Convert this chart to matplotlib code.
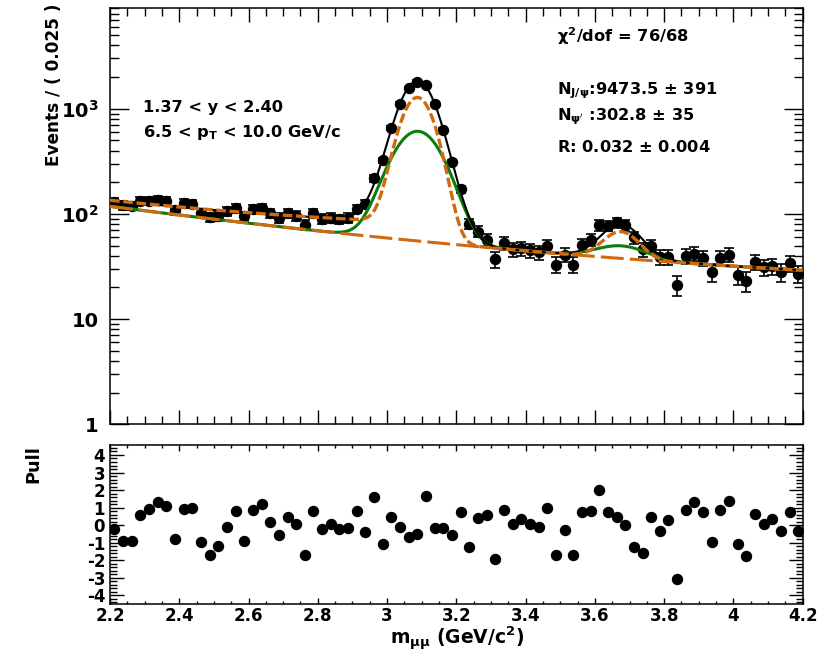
import math
import numpy as np
import matplotlib
matplotlib.use("Agg")
import matplotlib.pyplot as plt
from matplotlib.ticker import FixedLocator, FixedFormatter, MultipleLocator, NullFormatter

plt.rcParams['font.family'] = ['DejaVu Sans']
plt.rcParams['font.weight'] = 'bold'
plt.rcParams['mathtext.fontset'] = 'dejavusans'
plt.rcParams['mathtext.default'] = 'bf'

W, H = 832, 658

# dimuon mass bins (GeV/c^2), 0.025 wide
bin_centers = np.arange(80) * 0.025 + 2.2125

# events per bin
counts = [131, 121, 119, 133, 134, 137, 132, 109, 126, 124,
          102, 93, 96, 106, 113, 95, 111, 113, 101, 92,
          101, 96, 79, 101, 90, 92, 89, 92, 112, 124,
          217, 323, 656, 1114, 1585, 1813, 1684, 1109, 626, 308,
          171, 81, 68, 57, 37, 53, 46, 47, 45, 43,
          50, 33, 41, 33, 51, 57, 78, 77, 83, 78,
          60, 46, 50, 39, 39, 21, 40, 42, 38, 28,
          38, 41, 26, 23, 35, 31, 32, 28, 34, 27]

# pull of each bin with respect to the total fit
pulls = [-0.23, -0.9, -0.9, 0.59, 0.91, 1.29, 1.1, -0.8, 0.91, 0.97,
         -0.95, -1.7, -1.2, -0.1, 0.78, -0.9, 0.85, 1.2, 0.15, -0.57,
         0.47, 0.06, -1.7, 0.82, -0.23, 0.06, -0.23, -0.17, 0.82, -0.42,
         1.61, -1.1, 0.44, -0.1, -0.7, -0.5, 1.67, -0.17, -0.17, -0.55,
         0.72, -1.27, 0.38, 0.57, -1.94, 0.85, 0.06, 0.34, 0.09, -0.08,
         0.97, -1.69, -0.27, -1.69, 0.72, 0.8, 2.0, 0.72, 0.44, 0.0,
         -1.27, -1.61, 0.47, -0.32, 0.28, -3.07, 0.85, 1.29, 0.72, -0.99,
         0.85, 1.35, -1.08, -1.75, 0.66, 0.09, 0.34, -0.36, 0.72, -0.36]

# fit model parameters
bkg_log10 = [2.072, -0.425, 0.0605]          # log10 polynomial in (m - 2.2)
jpsi_mean, jpsi_sig_n, jpsi_sig_w = 3.088, 0.044, 0.065
jpsi_amp_n, jpsi_amp_w = 1210.0, 555.0
tail_amp, tail_slope = 28.0, 0.58
psi2s_mean, psi2s_sig_n, psi2s_sig_w = 3.675, 0.048, 0.07
psi2s_amp_n, psi2s_amp_w = 30.0, 12.0

erfc = np.vectorize(math.erfc)


def gauss(m, a, mu, s):
    return a * np.exp(-0.5 * ((m - mu) / s) ** 2)


def components(m):
    u = m - 2.2
    bkg = 10 ** (bkg_log10[0] + bkg_log10[1] * u + bkg_log10[2] * u ** 2)
    tail = (tail_amp * np.exp(tail_slope * (m - jpsi_mean)) * 0.5
            * erfc((m - jpsi_mean) / (jpsi_sig_n * math.sqrt(2))))
    narrow = (tail + gauss(m, jpsi_amp_n, jpsi_mean, jpsi_sig_n)
              + gauss(m, psi2s_amp_n, psi2s_mean, psi2s_sig_n))
    wide = (gauss(m, jpsi_amp_w, jpsi_mean, jpsi_sig_w)
            + gauss(m, psi2s_amp_w, psi2s_mean, psi2s_sig_w))
    return bkg, narrow, wide


errors = np.sqrt(np.array(counts, dtype=float))
m_fine = np.linspace(2.2, 4.2, 1201)
bf, nf, wf = components(m_fine)

fig = plt.figure(figsize=(W / 100, H / 100), dpi=100)
ax1 = fig.add_axes([110 / W, 1 - 424.3 / H, 692.7 / W, 416 / H])
ax2 = fig.add_axes([110 / W, 1 - 604 / H, 692.7 / W, 159 / H])

orange = '#d06a10'
green = '#0a7d0a'

ax1.errorbar(bin_centers, counts, yerr=errors, fmt='o', color='black', ms=7.2,
             elinewidth=1.2, capsize=3.5, capthick=1.2, zorder=2)
ax1.plot(m_fine, bf + wf, color=green, lw=2.2, zorder=3)
ax1.plot(m_fine, bf, color=orange, lw=2.2, dashes=(7.5, 2.0), zorder=4)
ax1.plot(m_fine, bf + nf + wf, color='black', lw=1.5, zorder=5)
ax1.plot(m_fine, bf + nf, color=orange, lw=2.4, dashes=(2.9, 1.1), zorder=6)

ax1.set_yscale('log')
ax1.set_xlim(2.2, 4.2)
ax1.set_ylim(1, 9000)
ax1.yaxis.set_major_locator(FixedLocator([1, 10, 100, 1000]))
ax1.yaxis.set_major_formatter(FixedFormatter(['1', '10', r'$\mathbf{10^{2}}$', r'$\mathbf{10^{3}}$']))
minor = [k * 10 ** e for e in range(0, 4) for k in range(2, 10)]
ax1.yaxis.set_minor_locator(FixedLocator(minor))
ax1.yaxis.set_minor_formatter(NullFormatter())
ax1.xaxis.set_major_locator(MultipleLocator(0.2))
ax1.xaxis.set_minor_locator(MultipleLocator(0.05))
ax1.xaxis.set_major_formatter(NullFormatter())
ax1.tick_params(axis='both', which='both', direction='in', top=True, right=True, width=1.0)
ax1.tick_params(axis='x', which='major', length=10)
ax1.tick_params(axis='x', which='minor', length=5.5)
ax1.tick_params(axis='y', which='major', length=13.5, labelsize=14, pad=8)
ax1.tick_params(axis='y', which='minor', length=6.5)

ax2.plot(bin_centers, pulls, 'o', color='black', ms=7.2)
ax2.set_xlim(2.2, 4.2)
ax2.set_ylim(-4.5, 4.57)
ax2.xaxis.set_major_locator(MultipleLocator(0.2))
ax2.xaxis.set_minor_locator(MultipleLocator(0.05))
ax2.xaxis.set_major_formatter(plt.FuncFormatter(lambda v, pos: '%g' % round(v, 2)))
ax2.yaxis.set_major_locator(MultipleLocator(1))
ax2.yaxis.set_minor_locator(MultipleLocator(0.2))
ax2.yaxis.set_major_formatter(plt.FuncFormatter(lambda v, pos: '%d' % round(v)))
ax2.tick_params(axis='both', which='both', direction='in', top=True, right=True,
                width=1.0, labelsize=12)
ax2.tick_params(axis='x', which='major', length=4.5, pad=2.5)
ax2.tick_params(axis='x', which='minor', length=2.2)
ax2.tick_params(axis='y', which='major', length=10, pad=3.5)
ax2.tick_params(axis='y', which='minor', length=5)

for ax in (ax1, ax2):
    for s in ax.spines.values():
        s.set_linewidth(1.1)

fig.text(54 / W, 1 - 3 / H, 'Events / ( 0.025 )', rotation=90, ha='center', va='top', fontsize=12.2)
fig.text(33 / W, 1 - 445 / H, 'Pull', rotation=90, ha='center', va='top', fontsize=12.8)
fig.text(457 / W, 1 - 645 / H, r'm$_{\mu\mu}$ (GeV/c$^{2}$)', ha='center', va='baseline',
         fontsize=13.5)

txt = dict(fontsize=11.7, ha='left', va='baseline')
fig.text(143 / W, 1 - 112 / H, '1.37 < y < 2.40', **txt)
fig.text(143 / W, 1 - 137 / H, r'6.5 < p$_{\mathbf{T}}$ < 10.0 GeV/c', **txt)
fig.text(557 / W, 1 - 42 / H, r'$\chi^{2}$/dof = 76/68', **txt)
fig.text(557 / W, 1 - 94 / H, r'N$_{J/\psi}$:9473.5 $\pm$ 391', **txt)
fig.text(557 / W, 1 - 120 / H, r"N$_{\psi'}$ :302.8 $\pm$ 35", **txt)
fig.text(557 / W, 1 - 151.5 / H, r'R: 0.032 $\pm$ 0.004', **txt)

fig.savefig('out.png', dpi=100)
